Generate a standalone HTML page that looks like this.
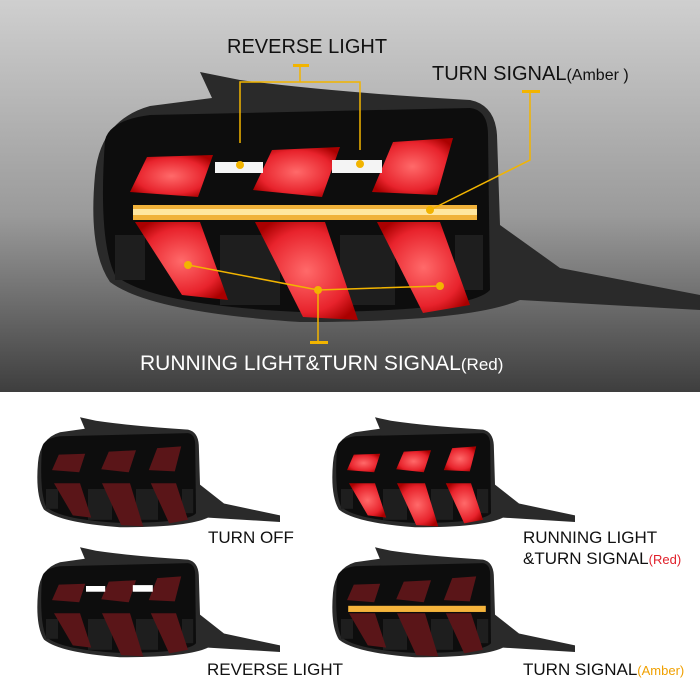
<!DOCTYPE html>
<html><head><style>
body{margin:0;width:700px;height:700px;overflow:hidden;background:#fff;font-family:"Liberation Sans",sans-serif}
svg{display:block}
</style></head><body>
<svg width="700" height="700" viewBox="0 0 700 700" xmlns="http://www.w3.org/2000/svg">
<defs>
<linearGradient id="bg" x1="0" y1="0" x2="0" y2="1">
<stop offset="0" stop-color="#cfcfcf"/><stop offset="0.55" stop-color="#9a9a9a"/><stop offset="1" stop-color="#3e3e3e"/>
</linearGradient>
<radialGradient id="rg" cx="0.5" cy="0.5" r="0.6"><stop offset="0" stop-color="#ff6a6a"/><stop offset="0.7" stop-color="#e8232c"/><stop offset="1" stop-color="#a00"/></radialGradient>
<g id="body">
<path d="M200,72 L240,80 Q330,92 470,100 Q495,105 497,135 L500,225 L560,268 L700,295 L700,310 L520,300 Q470,322 300,322 Q150,312 110,282 Q88,250 95,175 Q100,120 150,106 L212,98 Z" fill="#2a2a2a"/>
<path d="M105,140 Q110,120 150,115 L470,108 Q488,110 488,135 L490,290 Q470,312 300,312 Q150,305 115,275 Q98,240 105,140 Z" fill="#0d0d0d"/>
<g fill="#1e1e1e"><rect x="115" y="235" width="30" height="45"/><rect x="220" y="235" width="60" height="70"/><rect x="340" y="235" width="55" height="70"/><rect x="455" y="235" width="28" height="55"/></g>
</g>
<g id="chev">
<polygon points="147,157 213,155 198,197 130,192"/>
<polygon points="135,222 200,222 228,300 182,295"/>
<polygon points="253,190 272,150 340,147 322,197"/>
<polygon points="255,222 325,222 358,320 303,317"/>
<polygon points="372,192 393,142 453,138 437,195"/>
<polygon points="377,222 440,222 470,305 423,313"/>
</g>
</defs>
<rect width="700" height="392" fill="url(#bg)"/>
<use href="#body"/>
<use href="#chev" fill="url(#rg)"/>
<rect x="215" y="162" width="48" height="11" fill="#f4f4f4"/>
<rect x="332" y="160" width="50" height="13" fill="#f4f4f4"/>
<rect x="133" y="205" width="344" height="15" fill="#f0b23a"/>
<rect x="133" y="209" width="344" height="6" fill="#ffe7a0"/>
<g stroke="#f2b400" stroke-width="1.5" fill="none">
<path d="M240,143 V82 H360 V150"/><path d="M300,66 V82"/>
<path d="M530,92 V160 L430,210"/>
<path d="M188,265 L318,290 L440,286"/><path d="M318,290 V342"/>
</g>
<g fill="#f2b400">
<rect x="293" y="64" width="16" height="3"/><rect x="522" y="90" width="18" height="3"/><rect x="310" y="341" width="18" height="3"/>
<circle cx="240" cy="165" r="4"/><circle cx="360" cy="164" r="4"/><circle cx="430" cy="210" r="4"/>
<circle cx="188" cy="265" r="4"/><circle cx="318" cy="290" r="4"/><circle cx="440" cy="286" r="4"/>
</g>
<text x="227" y="53" font-size="20" fill="#111">REVERSE LIGHT</text>
<text x="432" y="80" font-size="20" fill="#111">TURN SIGNAL<tspan font-size="16">(Amber )</tspan></text>
<text x="140" y="370" font-size="21" fill="#fff">RUNNING LIGHT&amp;TURN SIGNAL<tspan font-size="17">(Red)</tspan></text>

<g transform="translate(0,390) scale(0.4,0.44) translate(0,-10)"><use href="#body"/><use href="#chev" fill="#5a1518"/></g>
<g transform="translate(295,390) scale(0.4,0.44) translate(0,-10)"><use href="#body"/><use href="#chev" fill="url(#rg)"/></g>
<g transform="translate(0,520) scale(0.4,0.44) translate(0,-10)"><use href="#body"/><use href="#chev" fill="#5a1518"/><rect x="215" y="160" width="48" height="13" fill="#fff"/><rect x="332" y="158" width="50" height="15" fill="#fff"/></g>
<g transform="translate(295,520) scale(0.4,0.44) translate(0,-10)"><use href="#body"/><use href="#chev" fill="#5a1518"/><rect x="133" y="205" width="344" height="14" fill="#f5b43c"/></g>

<text x="208" y="543" font-size="17" fill="#111">TURN OFF</text>
<text x="523" y="543" font-size="17" fill="#111">RUNNING LIGHT</text>
<text x="523" y="564" font-size="17" fill="#111">&amp;TURN SIGNAL<tspan font-size="13" fill="#e0202a">(Red)</tspan></text>
<text x="207" y="675" font-size="17" fill="#111">REVERSE LIGHT</text>
<text x="523" y="675" font-size="17" fill="#111">TURN SIGNAL<tspan font-size="13" fill="#f0a000">(Amber)</tspan></text>
</svg>
</body></html>
